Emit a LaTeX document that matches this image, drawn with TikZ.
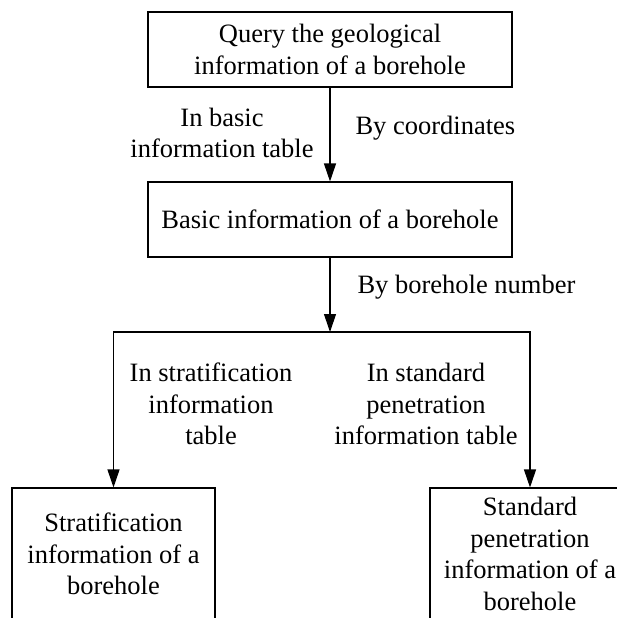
\documentclass[tikz,border=0pt]{standalone}
\usepackage{fontspec}
\setmainfont{Liberation Serif}
\usetikzlibrary{arrows.meta}

\begin{document}
\begin{tikzpicture}[>={Triangle[length=18pt, width=12pt]}, x=1pt, y=-1pt, line width=1.1pt,
                every node/.style={font=\fontsize{26.5}{31.5}\selectfont},
                box/.style={draw, align=center, inner sep=0pt},
                lbl/.style={align=center, inner sep=0pt}]
                % Khung của hình
                \useasboundingbox (0,0) rectangle (617,618);
                \clip (0,0) rectangle (617,618);
                
                % --- CÁC Ô TRÊN ---
                \node[box, minimum width=364pt, minimum height=75pt] (query) at (330,49.5) {Query the geological\\information of a borehole};
                \node[box, minimum width=364pt, minimum height=75pt] (basic) at (330,219.5) {Basic information of a borehole};
                
                % Điểm rẽ nhánh
                \coordinate (split) at (330,332);
                
                % --- CÁC Ô DƯỚI (bị cắt ở mép) ---
                \node[box, minimum width=203pt, minimum height=132pt] (strat) at (113.5,554) {Stratification\\information of a\\borehole};
                \node[box, minimum width=200pt, minimum height=132pt] (pen) at (530,554) {Standard\\penetration\\information of a\\borehole};
                
                % Mũi tên
                \draw[->] (query) -- (basic);
                \draw[->] (basic) -- (split);
                \draw[->] (split) -| (strat);
                \draw[->] (split) -| (pen);
                
                % Nhãn trên các mũi tên
                \node[lbl] (inbasic) at (222,133) {In basic\\information table};
                \node[lbl, anchor=west] (bycoord) at (355,128) {By coordinates};
                \node[lbl, anchor=west] (bynumber) at (357,287) {By borehole number};
                \node[lbl] (instrat) at (211,404) {In stratification\\information\\table};
                \node[lbl] (inpen) at (426,404) {In standard\\penetration\\information table};
                
            \end{tikzpicture}
\end{document}
